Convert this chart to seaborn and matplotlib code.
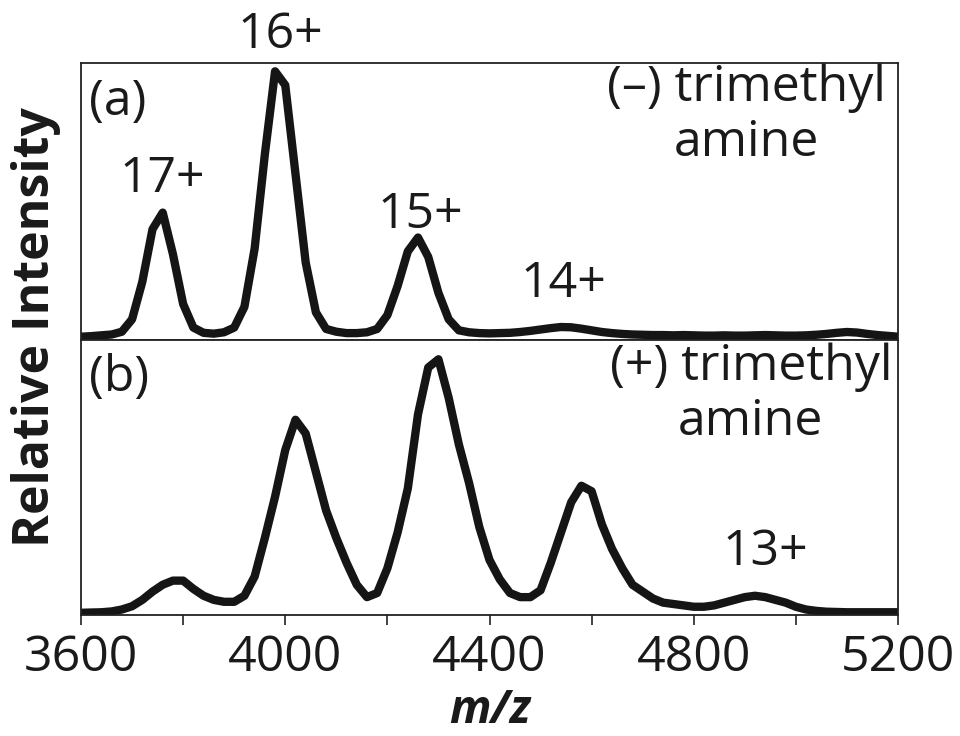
import numpy as np
import pandas as pd
import matplotlib
matplotlib.use("Agg")
import matplotlib.pyplot as plt
import seaborn as sns

# m/z grid (every 20 m/z from 3600 to 5200)
mz = list(range(3600, 5201, 20))

# (a) without trimethylamine, relative intensity (%)
int_a = [1.2, 1.4, 1.7, 2.0, 3.0, 7.5, 21, 40, 46, 31,
         13, 4.5, 2.6, 2.3, 2.8, 4.5, 12, 33, 67, 97,
         92, 60, 28, 10, 4.0, 3.0, 2.5, 2.5, 2.8, 4.0,
         9.0, 19.5, 32, 37, 30, 17, 7.5, 3.5, 2.8, 2.5,
         2.4, 2.5, 2.6, 2.9, 3.3, 3.8, 4.3, 4.7, 4.6, 4.1,
         3.5, 2.9, 2.5, 2.2, 2.0, 1.9, 1.8, 1.8, 1.7, 1.8,
         1.7, 1.6, 1.6, 1.7, 1.6, 1.6, 1.7, 1.8, 1.7, 1.6,
         1.6, 1.7, 1.9, 2.2, 2.6, 2.9, 2.7, 2.2, 1.8, 1.5,
         1.2]

# (b) with trimethylamine, relative intensity (%)
int_b = [0.8, 0.9, 1.0, 1.3, 2.0, 3.2, 5.5, 8.5, 11, 12.5,
         12.5, 9.5, 7.0, 5.5, 4.8, 4.8, 7.0, 14, 28, 43,
         60, 71, 66, 52, 38, 28, 19, 11, 6.5, 8.0,
         17, 30, 46, 73, 90, 93, 79, 62, 48, 32,
         20, 13, 8.0, 6.5, 6.5, 9.0, 19, 30, 41, 47,
         45, 33, 24, 17, 11, 8.5, 6.0, 4.5, 4.0, 3.5,
         3.0, 3.0, 3.5, 4.5, 5.5, 6.5, 7.0, 6.5, 5.5, 4.5,
         3.0, 2.0, 1.5, 1.2, 1.1, 1.0, 1.0, 1.0, 1.0, 1.0,
         1.0]

xticks_major = [3600, 4000, 4400, 4800, 5200]
charge_a = ["17+", "16+", "15+", "14+"]
charge_a_pos = [(3760, 58), (3990, 110), (4265, 45), (4545, 20)]
charge_b = ["13+"]
charge_b_pos = [(4940, 23)]

sns.set_style("ticks")
plt.rcParams['font.family'] = ['Open Sans', 'DejaVu Sans']

fig = plt.figure(figsize=(9.6, 7.36), dpi=100)
ax1 = fig.add_axes([0.0844, 0.538, 0.851, 0.3764])
ax2 = fig.add_axes([0.0844, 0.1644, 0.851, 0.3736])

df_a = pd.DataFrame({"mz": mz, "intensity": int_a})
df_b = pd.DataFrame({"mz": mz, "intensity": int_b})

sns.lineplot(data=df_a, x="mz", y="intensity", ax=ax1, color="#151515", linewidth=6, legend=False)
sns.lineplot(data=df_b, x="mz", y="intensity", ax=ax2, color="#151515", linewidth=6, legend=False)

for ax in (ax1, ax2):
    ax.set_xlim(3600, 5200)
    ax.set_ylim(0, 100)
    ax.set_yticks([])
    ax.set_xlabel("")
    ax.set_ylabel("")
    for s in ax.spines.values():
        s.set_visible(True)
        s.set_linewidth(1.3)
        s.set_color("#222222")
    ax.tick_params(axis="x", direction="out", length=7, width=1.2, color="#222222")

ax1.set_xticks(list(range(3700, 5201, 200)))
ax1.set_xticklabels([])
ax2.set_xticks(list(range(3600, 5201, 200)))
ax2.set_xticklabels([str(v) if v in xticks_major else "" for v in range(3600, 5201, 200)],
                    fontsize=36, color="#1a1a1a")
ax2.tick_params(axis="x", pad=6)

fs = 36
for lab, (x, y) in zip(charge_a, charge_a_pos):
    ax1.text(x, y, lab, ha="center", va="center", fontsize=fs, color="#1a1a1a", clip_on=False)
for lab, (x, y) in zip(charge_b, charge_b_pos):
    ax2.text(x, y, lab, ha="center", va="center", fontsize=fs, color="#1a1a1a")

ax1.text(0.01, 0.86, "(a)", transform=ax1.transAxes, ha="left", va="center", fontsize=fs, color="#1a1a1a")
ax2.text(0.01, 0.86, "(b)", transform=ax2.transAxes, ha="left", va="center", fontsize=fs, color="#1a1a1a")
ax1.text(0.814, 0.81, "(\u2013) trimethyl\namine", transform=ax1.transAxes, ha="center", va="center",
         multialignment="center", fontsize=fs, color="#1a1a1a", linespacing=1.15)
ax2.text(0.820, 0.80, "(+) trimethyl\namine", transform=ax2.transAxes, ha="center", va="center",
         multialignment="center", fontsize=fs, color="#1a1a1a", linespacing=1.15)

fig.text(0.038, 0.555, "Relative Intensity", rotation=90, ha="center", va="center",
         fontsize=36, fontweight="bold", color="#1a1a1a")
fig.text(0.51, 0.035, "m/z", ha="center", va="center", fontsize=33, fontweight="bold",
         fontstyle="italic", color="#1a1a1a")

fig.savefig("out.png", dpi=100)
